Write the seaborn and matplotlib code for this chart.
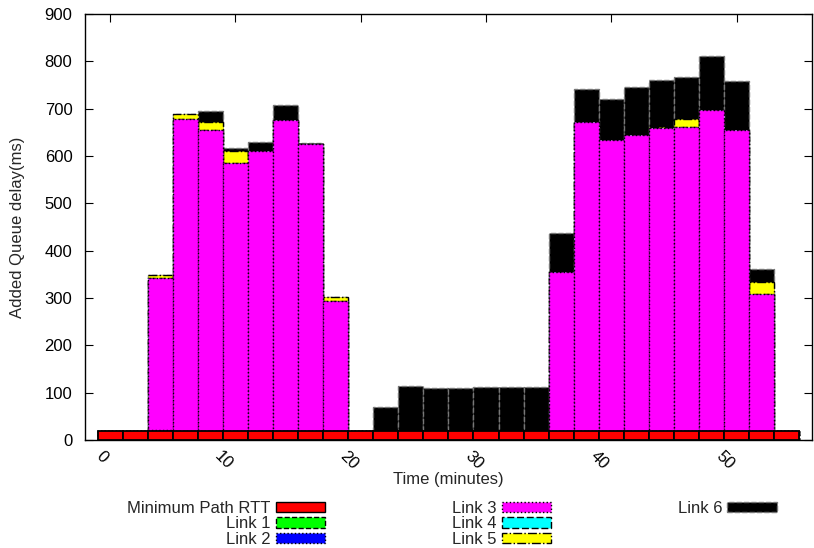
import seaborn as sns
import matplotlib.pyplot as plt
from matplotlib.patches import Patch
import numpy as np

# time slots (minutes), one bar each
time = [0, 2, 4, 6, 8, 10, 12, 14, 16, 18, 20, 22, 24, 26,
        28, 30, 32, 34, 36, 38, 40, 42, 44, 46, 48, 50, 52, 54]

# stacked segments (ms), bottom to top
rtt = [20, 20, 20, 20, 20, 20, 20, 20, 20, 20, 20, 20, 20, 20,
       20, 20, 20, 20, 20, 20, 20, 20, 20, 20, 20, 20, 20, 20]
link1 = [0, 0, 0, 0, 0, 0, 0, 0, 0, 0, 0, 0, 0, 0,
         0, 0, 0, 0, 0, 0, 0, 0, 0, 0, 0, 0, 0, 0]
link2 = [0, 0, 1, 0, 0, 0, 0, 0, 0, 0, 0, 0, 0, 0,
         0, 0, 0, 0, 0, 0, 0, 0, 0, 0, 0, 0, 0, 0]
link3 = [0, 0, 322, 659, 634, 565, 590, 656, 605, 274, 0, 0, 0, 0,
         0, 0, 0, 0, 336, 651, 614, 624, 639, 641, 677, 635, 289, 0]
link4 = [0, 0, 0, 0, 1, 0, 0, 0, 0, 0, 0, 0, 0, 0,
         0, 0, 0, 0, 0, 0, 0, 0, 0, 1, 0, 0, 0, 0]
link5 = [0, 0, 5, 10, 17, 25, 0, 0, 0, 8, 0, 0, 0, 0,
         0, 0, 0, 0, 0, 0, 0, 0, 2, 17, 0, 0, 24, 0]
link6 = [0, 0, 0, 0, 24, 6, 20, 31, 3, 0, 0, 49, 95, 90,
         90, 93, 92, 93, 82, 71, 86, 101, 99, 87, 114, 103, 28, 0]

labels = ["Minimum Path RTT", "Link 1", "Link 2", "Link 3", "Link 4", "Link 5", "Link 6"]
series = [rtt, link1, link2, link3, link4, link5, link6]
colors = ["#ff0000", "#00ff00", "#0000ff", "#ff00ff", "#00ffff", "#ffff00", "#000000"]
edges = ["black", "black", "black", "black", "black", "black", "#777777"]
styles = ["-", "--", ":", ":", (0, (5, 2)), "-.", "--"]

sns.set_theme(style="ticks")
plt.rcParams["font.family"] = ["Liberation Sans", "DejaVu Sans"]

fig = plt.figure(figsize=(8.14, 5.48), dpi=100)
ax = fig.add_axes([0.1044, 0.197, 0.893, 0.7774])

tops = np.cumsum(np.array(series, dtype=float), axis=0)

# draw cumulative totals from the top layer down so lower layers sit in front
for i in reversed(range(len(series))):
    sns.barplot(x=time, y=tops[i], native_scale=True, width=1, color=colors[i],
                saturation=1, edgecolor=edges[i], linestyle=styles[i],
                linewidth=1.0 if i else 1.3, errorbar=None, ax=ax)

ax.set_xlim(-2, 56)
ax.set_ylim(0, 900)
ax.set_yticks(range(0, 901, 100))
ax.set_xticks([0, 10, 20, 30, 40, 50])
ax.set_xticklabels(["0", "10", "20", "30", "40", "50"], rotation=-45, ha="right",
                   rotation_mode="default")
ax.tick_params(direction="in", top=True, right=True, length=6, width=0.8,
               labelsize=12, colors="black", pad=6)
ax.tick_params(axis="y", pad=9)
for s in ax.spines.values():
    s.set_linewidth(1.0)
    s.set_color("black")

ax.set_xlabel("Time (minutes)", fontsize=12, labelpad=0)
ax.set_ylabel("Added Queue delay(ms)", fontsize=12)
ax.yaxis.set_label_coords(-0.0825, 0.5)

handles = [Patch(facecolor=colors[i], edgecolor=edges[i], linestyle=styles[i], linewidth=1)
           for i in range(len(series))]
blank = Patch(visible=False)
leg_labels = labels + ["", ""]
handles = handles + [blank, blank]
fig.legend(handles, leg_labels, loc="upper left", bbox_to_anchor=(0.138, 0.113),
           bbox_transform=fig.transFigure, ncol=3, markerfirst=False, frameon=False,
           fontsize=12, handlelength=2.95, handleheight=0.6, handletextpad=0.3,
           columnspacing=7.63, labelspacing=0.02)

fig.savefig("out.png", dpi=100)
